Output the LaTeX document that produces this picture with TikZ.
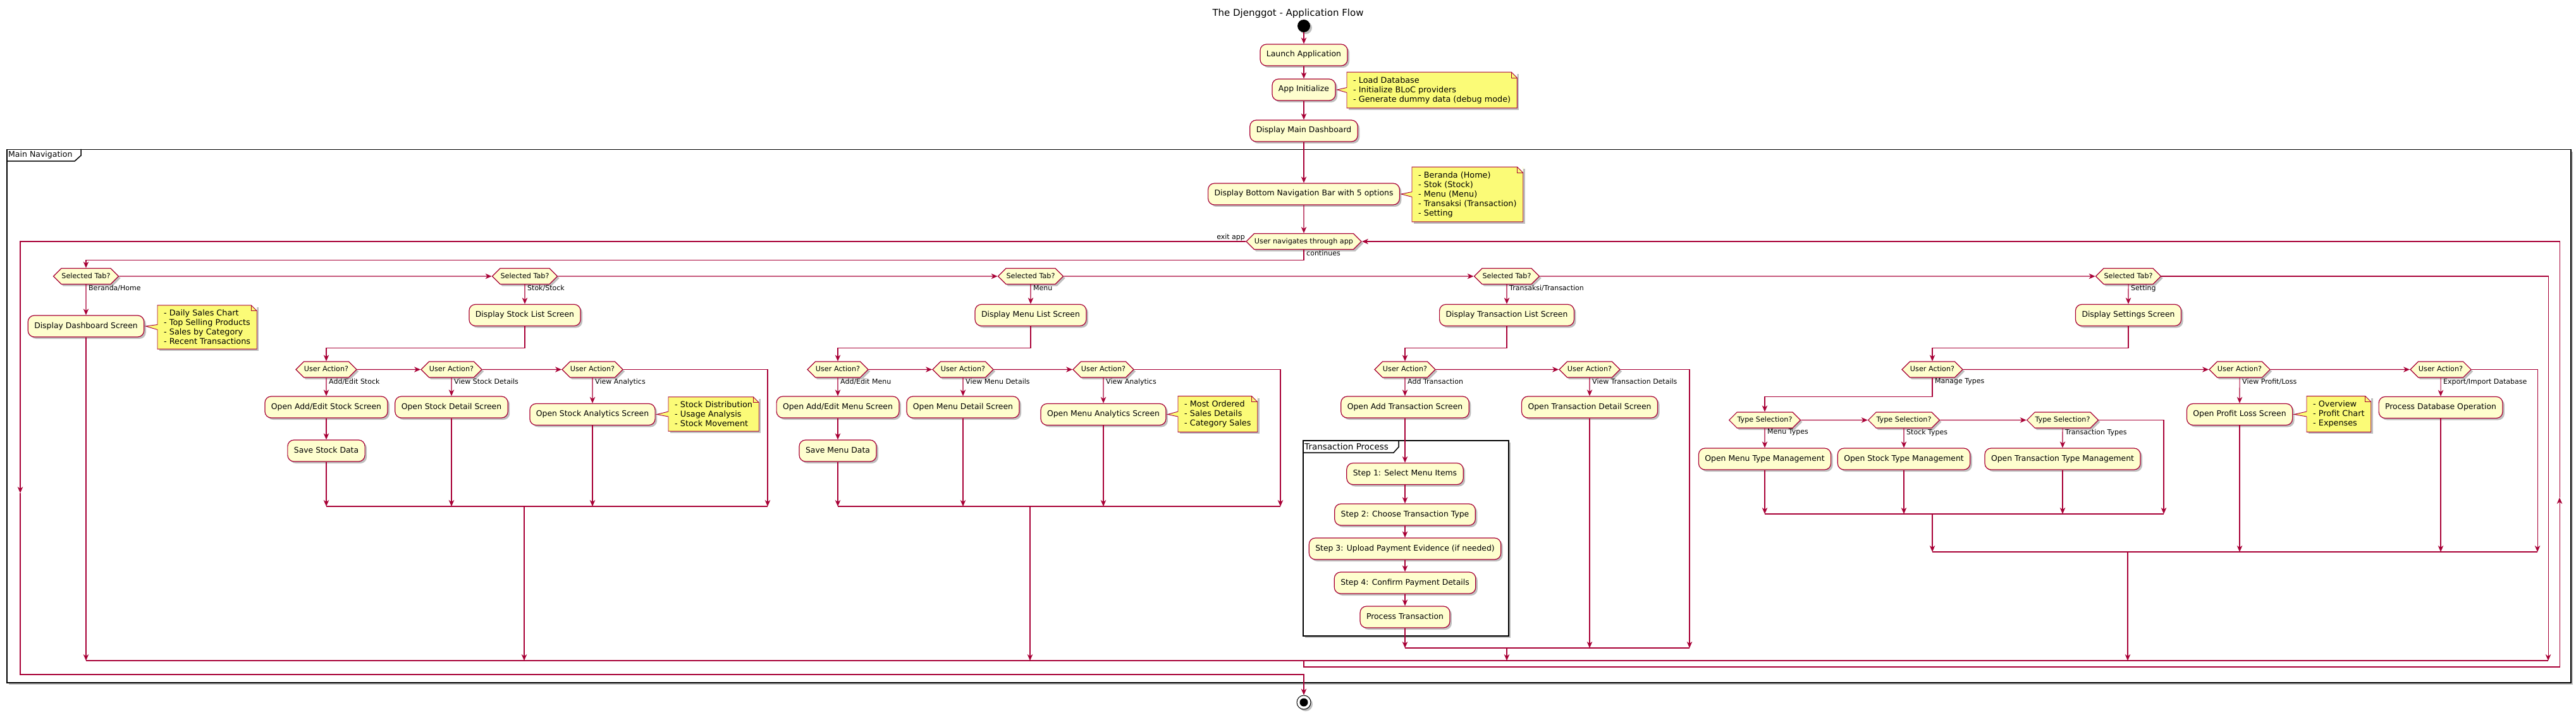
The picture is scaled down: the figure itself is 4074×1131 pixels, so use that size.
\documentclass[tikz,border=0pt]{standalone}
\usepackage{fontspec}
\setmainfont{DejaVu Sans}
\usetikzlibrary{arrows.meta,shapes.symbols,shadows}
\definecolor{crim}{HTML}{A80036}
\definecolor{actfill}{HTML}{FEFECE}
\definecolor{notefill}{HTML}{FBFB77}
\newcommand\notefold[2]{%
  \fill[white] ([xshift=-9pt]#1.north east) -- (#1.north east) -- ([yshift=-9pt]#1.north east) -- cycle;
  \draw[notedraw] (#1.north west) -- ([xshift=-9pt]#1.north east) -- ([yshift=-9pt]#1.north east) -- (#1.south east) -- (#1.south west) -- cycle;
  \draw[notedraw] ([xshift=-9pt]#1.north east) |- ([yshift=-9pt]#1.north east);
  \fill[notefill] ([yshift=4pt,xshift=0.9pt]#1.west) -- ([xshift=2pt]#2.east) -- ([yshift=-4pt,xshift=0.9pt]#1.west) -- cycle;
  \draw[notedraw] ([yshift=4pt]#1.west) -- ([xshift=2pt]#2.east) -- ([yshift=-4pt]#1.west);
}

\begin{document}
\begin{tikzpicture}[x=1pt,y=-1pt]
  \tikzset{
    softshadow/.style={drop shadow={shadow xshift=3pt, shadow yshift=-3pt, opacity=0.25, fill=black}},
    act/.style={draw=crim, fill=actfill, line width=1.2pt, rounded corners=10pt, inner xsep=10pt, inner ysep=11pt,
      text height=9pt, text depth=3pt, font=\fontsize{12.4}{15}\selectfont, softshadow},
    dec/.style={signal, signal to=east and west, signal pointer angle=90, draw=crim, fill=actfill, line width=1.2pt,
      inner xsep=0.5pt, inner ysep=7pt, text height=8.5pt, text depth=2.5pt, font=\fontsize{11.2}{13}\selectfont, softshadow},
    note/.style={fill=notefill, align=left, inner xsep=10pt, inner ysep=7pt, font=\fontsize{12.8}{15}\selectfont, softshadow},
    notedraw/.style={draw=crim, line width=0.9pt},
    lbl/.style={font=\fontsize{11}{13}\selectfont, inner sep=1pt},
    flow/.style={draw=crim, line width=1.1pt, -{Stealth[length=10pt, width=8.5pt, inset=3pt]}},
    wire/.style={draw=crim, line width=1.1pt},
    pframe/.style={draw=black, line width=1.5pt}
  }
  \useasboundingbox (0,0) rectangle (4074,1131);

  \node[font=\fontsize{15}{18}\selectfont] (title) at (2037,21) {The Djenggot - Application Flow};

  \node[pframe, fill=white, softshadow, minimum width=4055pt, minimum height=843pt, anchor=north west, inner sep=0pt] (mainnav) at (10,236) {};
  \draw[pframe] ([yshift=-19pt]mainnav.north west) -- ++(108,0) -- ++(10,-9) -- ++(0,-10);
  \node[anchor=west, font=\fontsize{12.5}{15}\selectfont, inner sep=0pt] (mainnavlbl) at ([xshift=3pt,yshift=-9.5pt]mainnav.north west) {Main Navigation};

  \node[pframe, fill=white, softshadow, minimum width=325pt, minimum height=309pt, anchor=north west, inner sep=0pt] (transproc) at (2060,696) {};
  \draw[pframe] ([yshift=-20pt]transproc.north west) -- ++(144,0) -- ++(8,-9) -- ++(0,-11);
  \node[anchor=west, font=\fontsize{13.5}{15}\selectfont, inner sep=0pt] (transproclbl) at ([xshift=3pt,yshift=-10pt]transproc.north west) {Transaction Process};

  \node[circle, fill=black, minimum size=20pt, inner sep=0pt, softshadow] (start) at (2062,41) {};
  \node[act] (launch) at (2062,87) {Launch Application};
  \node[act] (init) at (2062,142) {App Initialize};
  \node[note, anchor=west] (initnote) at (2130,142.5) {- Load Database\\- Initialize BLoC providers\\- Generate dummy data (debug mode)};
  \notefold{initnote}{init}
  \node[act] (maindash) at (2062,207) {Display Main Dashboard};
  \node[act] (navbar) at (2062,307) {Display Bottom Navigation Bar with 5 options};
  \node[note, anchor=west] (navnote) at (2233,307.5) {- Beranda (Home)\\- Stok (Stock)\\- Menu (Menu)\\- Transaksi (Transaction)\\- Setting};
  \notefold{navnote}{navbar}
  \node[dec] (navloop) at (2062,382) {User navigates through app};
  \node[lbl, anchor=south east] (lblexit) at (navloop.west) {exit app};
  \node[lbl, anchor=north west] (lblcont) at ([xshift=3pt]navloop.south) {continues};
  \node[circle, draw=black, line width=1pt, fill=white, minimum size=22pt, inner sep=0pt, softshadow,
    path picture={\fill[black] (path picture bounding box.center) circle (6.5pt);}] (stop) at (2062,1111) {};

  \node[dec] (tabhome) at (136,437) {Selected Tab?};
  \node[dec] (tabstock) at (830,437) {Selected Tab?};
  \node[dec] (tabmenu) at (1630,437) {Selected Tab?};
  \node[dec] (tabtrans) at (2383,437) {Selected Tab?};
  \node[dec] (tabset) at (3366,437) {Selected Tab?};
  \node[lbl, anchor=north west] (lblhome) at ([xshift=3pt]tabhome.south) {Beranda/Home};
  \node[lbl, anchor=north west] (lblstock) at ([xshift=3pt]tabstock.south) {Stok/Stock};
  \node[lbl, anchor=north west] (lblmenu) at ([xshift=3pt]tabmenu.south) {Menu};
  \node[lbl, anchor=north west] (lbltrans) at ([xshift=3pt]tabtrans.south) {Transaksi/Transaction};
  \node[lbl, anchor=north west] (lblset) at ([xshift=3pt]tabset.south) {Setting};

  \node[act] (dashscreen) at (136,516) {Display Dashboard Screen};
  \node[note, anchor=west] (dashnote) at (249,517.5) {- Daily Sales Chart\\- Top Selling Products\\- Sales by Category\\- Recent Transactions};
  \notefold{dashnote}{dashscreen}

  \node[act] (stocklist) at (830,498.5) {Display Stock List Screen};
  \node[dec] (stockua1) at (516,584.5) {User Action?};
  \node[dec] (stockua2) at (714,584.5) {User Action?};
  \node[dec] (stockua3) at (937,584.5) {User Action?};
  \node[lbl, anchor=north west] (lblstockua1) at ([xshift=3pt]stockua1.south) {Add/Edit Stock};
  \node[lbl, anchor=north west] (lblstockua2) at ([xshift=3pt]stockua2.south) {View Stock Details};
  \node[lbl, anchor=north west] (lblstockua3) at ([xshift=3pt]stockua3.south) {View Analytics};
  \node[act] (stockedit) at (516,644) {Open Add/Edit Stock Screen};
  \node[act] (stocksave) at (516,713) {Save Stock Data};
  \node[act] (stockdetail) at (714,644) {Open Stock Detail Screen};
  \node[act] (stockstats) at (937,655.5) {Open Stock Analytics Screen};
  \node[note, anchor=west] (stocknote) at (1057,655) {- Stock Distribution\\- Usage Analysis\\- Stock Movement};
  \notefold{stocknote}{stockstats}

  \node[act] (menulist) at (1630,498.5) {Display Menu List Screen};
  \node[dec] (menuua1) at (1325,584.5) {User Action?};
  \node[dec] (menuua2) at (1523,584.5) {User Action?};
  \node[dec] (menuua3) at (1745,584.5) {User Action?};
  \node[lbl, anchor=north west] (lblmenuua1) at ([xshift=3pt]menuua1.south) {Add/Edit Menu};
  \node[lbl, anchor=north west] (lblmenuua2) at ([xshift=3pt]menuua2.south) {View Menu Details};
  \node[lbl, anchor=north west] (lblmenuua3) at ([xshift=3pt]menuua3.south) {View Analytics};
  \node[act] (menuedit) at (1325,644) {Open Add/Edit Menu Screen};
  \node[act] (menusave) at (1325,713) {Save Menu Data};
  \node[act] (menudetail) at (1523,644) {Open Menu Detail Screen};
  \node[act] (menustats) at (1745,655.5) {Open Menu Analytics Screen};
  \node[note, anchor=west] (menunote) at (1863,655) {- Most Ordered\\- Sales Details\\- Category Sales};
  \notefold{menunote}{menustats}

  \node[act] (translist) at (2383,498.5) {Display Transaction List Screen};
  \node[dec] (transua1) at (2222,584.5) {User Action?};
  \node[dec] (transua2) at (2514,584.5) {User Action?};
  \node[lbl, anchor=north west] (lbltransua1) at ([xshift=3pt]transua1.south) {Add Transaction};
  \node[lbl, anchor=north west] (lbltransua2) at ([xshift=3pt]transua2.south) {View Transaction Details};
  \node[act] (transadd) at (2222,644) {Open Add Transaction Screen};
  \node[act] (transdetail) at (2514,644) {Open Transaction Detail Screen};
  \node[act] (step1) at (2222,749.5) {Step 1: Select Menu Items};
  \node[act] (step2) at (2222,814) {Step 2: Choose Transaction Type};
  \node[act] (step3) at (2222,868) {Step 3: Upload Payment Evidence (if needed)};
  \node[act] (step4) at (2222,922) {Step 4: Confirm Payment Details};
  \node[act] (stepproc) at (2222,976) {Process Transaction};

  \node[act] (setlist) at (3366,498.5) {Display Settings Screen};
  \node[dec] (setua1) at (3056,584.5) {User Action?};
  \node[dec] (setua2) at (3542,584.5) {User Action?};
  \node[dec] (setua3) at (3860,584.5) {User Action?};
  \node[lbl, anchor=north west] (lblsetua1) at ([xshift=3pt]setua1.south) {Manage Types};
  \node[lbl, anchor=north west] (lblsetua2) at ([xshift=3pt]setua2.south) {View Profit/Loss};
  \node[lbl, anchor=north west] (lblsetua3) at ([xshift=3pt]setua3.south) {Export/Import Database};
  \node[dec] (typesel1) at (2791,664.5) {Type Selection?};
  \node[dec] (typesel2) at (3011,664.5) {Type Selection?};
  \node[dec] (typesel3) at (3262,664.5) {Type Selection?};
  \node[lbl, anchor=north west] (lbltype1) at ([xshift=3pt]typesel1.south) {Menu Types};
  \node[lbl, anchor=north west] (lbltype2) at ([xshift=3pt]typesel2.south) {Stock Types};
  \node[lbl, anchor=north west] (lbltype3) at ([xshift=3pt]typesel3.south) {Transaction Types};
  \node[act] (typemenu) at (2791,726) {Open Menu Type Management};
  \node[act] (typestock) at (3011,726) {Open Stock Type Management};
  \node[act] (typetrans) at (3262,726) {Open Transaction Type Management};
  \node[act] (profit) at (3542,655.5) {Open Profit Loss Screen};
  \node[note, anchor=west] (profitnote) at (3648,655) {- Overview\\- Profit Chart\\- Expenses};
  \notefold{profitnote}{profit}
  \node[act] (dbop) at (3860,644.5) {Process Database Operation};

  \coordinate (exitcol) at (32,780);
  \coordinate (exitrow) at (2062,1067);
  \coordinate (mainbar) at (2062,1045);
  \coordinate (backrow) at (2062,1055);
  \coordinate (backcol) at (4048,787);
  \coordinate (tabelse) at (4030,1045);
  \coordinate (stockbar) at (829,801);
  \coordinate (stockelse) at (1214,801);
  \coordinate (menubar) at (1629,801);
  \coordinate (menuelse) at (2025,801);
  \coordinate (transbar) at (2383,1025);
  \coordinate (transelse) at (2672,1025);
  \coordinate (typebar) at (3056,813);
  \coordinate (typeelse) at (3422,813);
  \coordinate (setbar) at (3365,873);
  \coordinate (setelse) at (4013,873);

  \draw[flow] (start) -- (launch);
  \draw[flow] (launch) -- (init);
  \draw[flow] (init) -- (maindash);
  \draw[flow] (maindash) -- (navbar);
  \draw[flow] (navbar) -- (navloop);
  \draw[flow] (navloop.south) -- ++(0,16) -| (tabhome.north);
  \draw[flow] (navloop.west) -| (exitcol);
  \draw[flow] (exitcol) |- (exitrow) -- (stop);
  \draw[flow] (mainbar) -- (backrow) -| (backcol);
  \draw[flow] (backcol) |- (navloop.east);

  \draw[flow] (tabhome) -- (tabstock);
  \draw[flow] (tabstock) -- (tabmenu);
  \draw[flow] (tabmenu) -- (tabtrans);
  \draw[flow] (tabtrans) -- (tabset);
  \draw[flow] (tabset.east) -| (tabelse);
  \draw[wire] (tabhome |- mainbar) -- (tabelse);

  \draw[flow] (tabhome) -- (dashscreen);
  \draw[flow] (dashscreen) -- (dashscreen |- mainbar);

  \draw[flow] (tabstock) -- (stocklist);
  \draw[flow] (stocklist.south) -- ++(0,34) -| (stockua1.north);
  \draw[flow] (stockua1) -- (stockua2);
  \draw[flow] (stockua2) -- (stockua3);
  \draw[flow] (stockua3.east) -| (stockelse);
  \draw[flow] (stockua1) -- (stockedit);
  \draw[flow] (stockedit) -- (stocksave);
  \draw[flow] (stocksave) -- (stocksave |- stockbar);
  \draw[flow] (stockua2) -- (stockdetail);
  \draw[flow] (stockdetail) -- (stockdetail |- stockbar);
  \draw[flow] (stockua3) -- (stockstats);
  \draw[flow] (stockstats) -- (stockstats |- stockbar);
  \draw[wire] (stockua1 |- stockbar) -- (stockelse);
  \draw[flow] (stockbar) -- (stockbar |- mainbar);

  \draw[flow] (tabmenu) -- (menulist);
  \draw[flow] (menulist.south) -- ++(0,34) -| (menuua1.north);
  \draw[flow] (menuua1) -- (menuua2);
  \draw[flow] (menuua2) -- (menuua3);
  \draw[flow] (menuua3.east) -| (menuelse);
  \draw[flow] (menuua1) -- (menuedit);
  \draw[flow] (menuedit) -- (menusave);
  \draw[flow] (menusave) -- (menusave |- menubar);
  \draw[flow] (menuua2) -- (menudetail);
  \draw[flow] (menudetail) -- (menudetail |- menubar);
  \draw[flow] (menuua3) -- (menustats);
  \draw[flow] (menustats) -- (menustats |- menubar);
  \draw[wire] (menuua1 |- menubar) -- (menuelse);
  \draw[flow] (menubar) -- (menubar |- mainbar);

  \draw[flow] (tabtrans) -- (translist);
  \draw[flow] (translist.south) -- ++(0,34) -| (transua1.north);
  \draw[flow] (transua1) -- (transua2);
  \draw[flow] (transua2.east) -| (transelse);
  \draw[flow] (transua1) -- (transadd);
  \draw[flow] (transadd) -- (step1);
  \draw[flow] (step1) -- (step2);
  \draw[flow] (step2) -- (step3);
  \draw[flow] (step3) -- (step4);
  \draw[flow] (step4) -- (stepproc);
  \draw[flow] (stepproc) -- (stepproc |- transbar);
  \draw[flow] (transua2) -- (transdetail);
  \draw[flow] (transdetail) -- (transdetail |- transbar);
  \draw[wire] (transua1 |- transbar) -- (transelse);
  \draw[flow] (transbar) -- (transbar |- mainbar);

  \draw[flow] (tabset) -- (setlist);
  \draw[flow] (setlist.south) -- ++(0,34) -| (setua1.north);
  \draw[flow] (setua1) -- (setua2);
  \draw[flow] (setua2) -- (setua3);
  \draw[flow] (setua3.east) -| (setelse);
  \draw[flow] (setua1.south) -- ++(0,30) -| (typesel1.north);
  \draw[flow] (typesel1) -- (typesel2);
  \draw[flow] (typesel2) -- (typesel3);
  \draw[flow] (typesel3.east) -| (typeelse);
  \draw[flow] (typesel1) -- (typemenu);
  \draw[flow] (typemenu) -- (typemenu |- typebar);
  \draw[flow] (typesel2) -- (typestock);
  \draw[flow] (typestock) -- (typestock |- typebar);
  \draw[flow] (typesel3) -- (typetrans);
  \draw[flow] (typetrans) -- (typetrans |- typebar);
  \draw[wire] (typesel1 |- typebar) -- (typeelse);
  \draw[flow] (typebar) -- (typebar |- setbar);
  \draw[flow] (setua2) -- (profit);
  \draw[flow] (profit) -- (profit |- setbar);
  \draw[flow] (setua3) -- (dbop);
  \draw[flow] (dbop) -- (dbop |- setbar);
  \draw[wire] (typebar |- setbar) -- (setelse);
  \draw[flow] (setbar) -- (setbar |- mainbar);
\end{tikzpicture}
\end{document}
